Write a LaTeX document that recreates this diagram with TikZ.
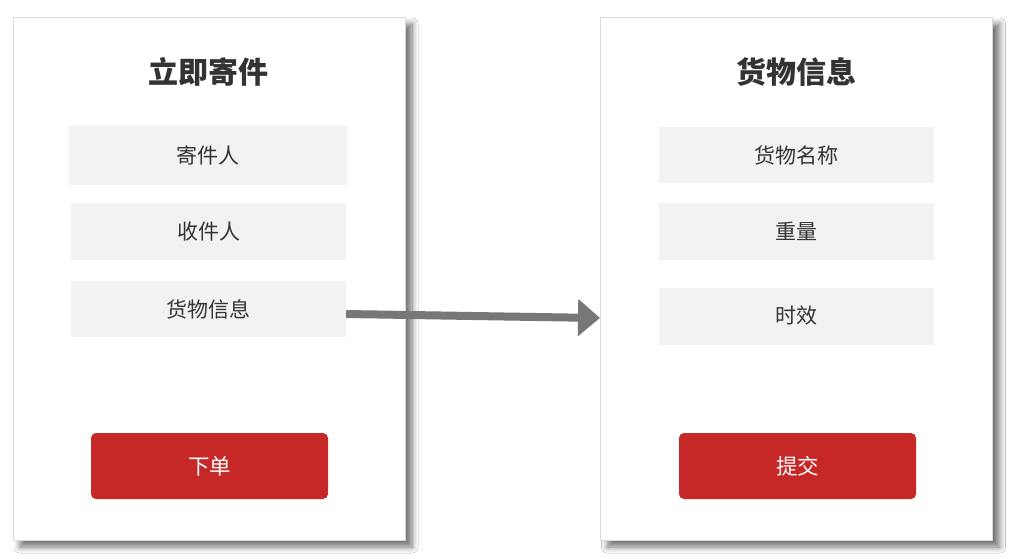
\documentclass[tikz,border=0pt]{standalone}
\usepackage{fontspec}
\newfontfamily\cjk{Noto Sans CJK SC}
\usetikzlibrary{shadows.blur,arrows.meta}
\definecolor{fieldgray}{HTML}{F2F2F2}
\definecolor{btnred}{HTML}{C62828}
\definecolor{txt}{HTML}{333333}
\definecolor{arrowgray}{HTML}{777777}
\definecolor{panelline}{HTML}{DADADA}
\begin{document}
\begin{tikzpicture}[x=1pt,y=-1pt,
  panel/.style={draw=panelline,line width=1pt,fill=white,minimum width=392pt,minimum height=523pt,inner sep=0pt,
    blur shadow={shadow xshift=7pt,shadow yshift=-7pt,shadow blur radius=6pt,shadow blur steps=10,shadow opacity=55}},
  title/.style={font=\cjk\bfseries\fontsize{30}{34}\selectfont,text=txt},
  field/.style={fill=fieldgray,minimum width=276pt,minimum height=57pt,inner sep=0pt,font=\cjk\fontsize{21}{25}\selectfont,text=txt},
  btn/.style={fill=btnred,rounded corners=5pt,minimum width=237pt,minimum height=66pt,inner sep=0pt,font=\cjk\fontsize{21.5}{25}\selectfont,text=white},
  conn/.style={draw=arrowgray,line width=8pt,-{Triangle[length=22pt,width=36pt]}}]
\useasboundingbox (0,0) rectangle (1019,558);
\fill[white] (0,0) rectangle (1019,558);
% left panel
\node[panel] (lp) at (209,278.5) {};
\node[title] (lt) at (208,72) {立即寄件};
\node[field,minimum width=278pt,minimum height=60pt] (f1) at (208,155) {寄件人};
\node[field,minimum width=275pt] (f2) at (208.5,231.5) {收件人};
\node[field,minimum width=275pt,minimum height=56pt] (f3) at (208.5,309) {货物信息};
\node[btn] (b1) at (209.5,466) {下单};
% right panel
\node[panel] (rp) at (796.5,278.5) {};
\node[title] (rt) at (796,72) {货物信息};
\node[field,minimum width=275pt,minimum height=56pt] (g1) at (796.5,155) {货物名称};
\node[field,minimum width=275pt] (g2) at (796.5,231.5) {重量};
\node[field,minimum width=275pt] (g3) at (796.5,316) {时效};
\node[btn] (b2) at (797.5,466) {提交};
% arrow
\coordinate (as) at (f3.east |- 0,314);
\coordinate (ae) at (rp.west |- 0,318);
\draw[conn] (as) -- (ae);
\end{tikzpicture}
\end{document}
